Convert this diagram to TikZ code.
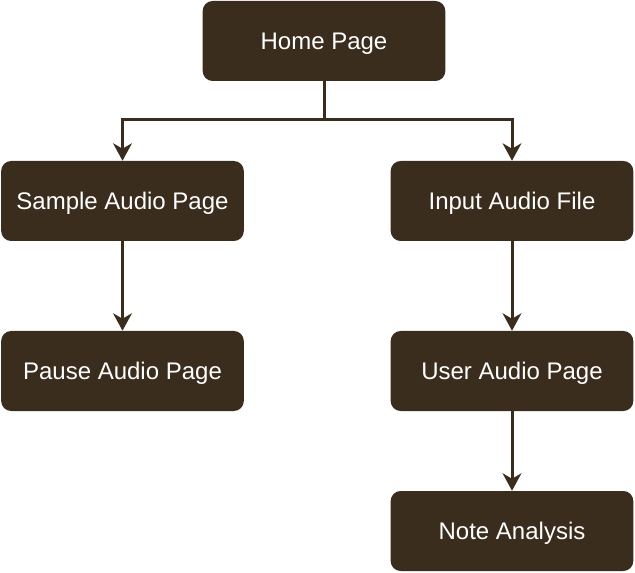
\documentclass[tikz,border=0pt]{standalone}
\usepackage{fontspec}
\setmainfont{Liberation Sans}
\usetikzlibrary{arrows.meta}
\definecolor{boxc}{HTML}{3B2D1E}
\begin{document}
\begin{tikzpicture}[x=0.75pt,y=-0.75pt,
  pbox/.style={draw=none,fill=boxc,rounded corners=7.5pt,minimum width=182pt,minimum height=60pt,text=white,font=\fontsize{18}{21}\selectfont,inner sep=0pt,text height=12.9pt,text depth=0pt},
  conn/.style={draw=boxc,line width=2.25pt,-{Stealth[length=13pt,width=14pt,inset=4pt]}}]
\useasboundingbox (0,0) rectangle (635,573);
\node[pbox] (home) at (324,41) {Home Page};
\node[pbox] (sample) at (122.5,201) {Sample Audio Page};
\node[pbox] (input) at (512,201) {Input Audio File};
\node[pbox] (pause) at (122.5,371) {Pause Audio Page};
\node[pbox] (user) at (512,371) {User Audio Page};
\node[pbox] (note) at (512,531) {Note Analysis};
\coordinate (j) at (324,120);
\draw[conn] (home.south) -- (j) -| (sample.north);
\draw[conn] (j) -| (input.north);
\draw[conn] (sample) -- (pause);
\draw[conn] (input) -- (user);
\draw[conn] (user) -- (note);
\end{tikzpicture}
\end{document}
